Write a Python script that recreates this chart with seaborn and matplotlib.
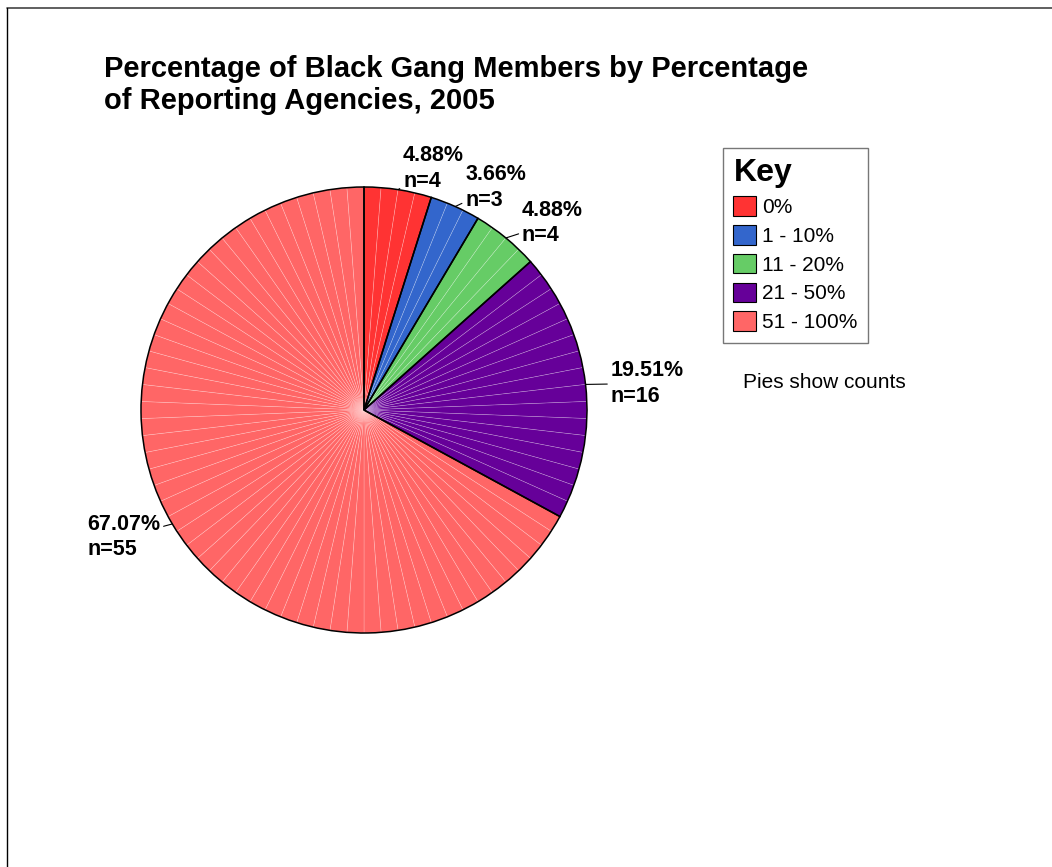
import numpy as np
import matplotlib
matplotlib.use("Agg")
import matplotlib.pyplot as plt
import matplotlib.patches as mpatches
from matplotlib.lines import Line2D
import seaborn as sns

# Data
categories = ["0%", "1 - 10%", "11 - 20%", "21 - 50%", "51 - 100%"]
counts = [4, 3, 4, 16, 55]
colors = ["#FF3333", "#3366CC", "#66CC66", "#660099", "#FF6666"]

# label offsets (pixels) from the wedge edge point, and text alignment
label_offsets = [(5, 21), (10, 19), (16, 15), (25, 1), (-12, -13)]
label_align = ["left", "left", "left", "left", "right"]

sns.set_theme(style="white")
plt.rcParams["font.family"] = ["Liberation Sans", "DejaVu Sans"]
plt.rcParams["text.color"] = "black"

W, H = 1052, 867
fig = plt.figure(figsize=(W / 100, H / 100), dpi=100)

# pie axes: center (364, 410) px, radius 223 px
cx, cy, r = 364, 410, 223
ax = fig.add_axes([(cx - r) / W, (H - cy - r) / H, 2 * r / W, 2 * r / H])

total = sum(counts)

# one thin wedge per count ("Pies show counts")
unit_colors = np.repeat(colors, counts)
ax.pie(
    np.ones(total),
    colors=unit_colors,
    startangle=90,
    counterclock=False,
    radius=1,
    wedgeprops=dict(edgecolor=(1, 1, 1, 0.3), linewidth=0.45),
)

# category outlines on top
wedges, _ = ax.pie(
    counts,
    colors=["none"] * len(counts),
    startangle=90,
    counterclock=False,
    radius=1,
    wedgeprops=dict(edgecolor="black", linewidth=1.1, facecolor="none"),
)
ax.set_xlim(-1, 1)
ax.set_ylim(-1, 1)
ax.set_aspect("equal")
ax.axis("off")

# labels with leader lines
cum = np.cumsum([0] + counts)
for i, n in enumerate(counts):
    mid = (cum[i] + n / 2) / total * 2 * np.pi
    ex, ey = np.sin(mid), np.cos(mid)
    pct = n / total * 100
    dx, dy = label_offsets[i]
    ax.annotate(
        f"{pct:.2f}%\nn={n}",
        xy=(ex, ey),
        xytext=(dx, dy),
        textcoords="offset pixels",
        ha=label_align[i],
        va="center",
        multialignment="left",
        fontsize=15.5,
        fontweight="bold",
        linespacing=1.3,
        arrowprops=dict(arrowstyle="-", color="black", lw=0.8, shrinkA=0, shrinkB=0),
    )

# title
fig.text(
    104 / W,
    1 - 55 / H,
    "Percentage of Black Gang Members by Percentage\nof Reporting Agencies, 2005",
    ha="left",
    va="top",
    fontsize=21,
    fontweight="bold",
    linespacing=1.2,
)

# legend
handles = [
    mpatches.Patch(facecolor=c, edgecolor="black", linewidth=0.8, label=l)
    for c, l in zip(colors, categories)
]
leg = fig.legend(
    handles=handles,
    title="Key",
    loc="upper left",
    bbox_to_anchor=(723 / W, 1 - 148 / H),
    fontsize=15,
    title_fontproperties={"size": 23, "weight": "bold"},
    alignment="left",
    handlelength=1.06,
    handleheight=1.06,
    handletextpad=0.3,
    labelspacing=0.38,
    borderpad=0.5,
    borderaxespad=0,
    fancybox=False,
    frameon=True,
    edgecolor="#555555",
)
leg.get_frame().set_linewidth(1.0)

fig.text(743 / W, 1 - 383 / H, "Pies show counts", ha="left", va="center", fontsize=15)

# outer frame lines
fig.add_artist(Line2D([7 / W, 1], [1 - 8 / H, 1 - 8 / H], color="#444444", lw=1.2))
fig.add_artist(Line2D([7 / W, 7 / W], [0, 1 - 8 / H], color="black", lw=1.0))

fig.savefig("out.png", dpi=100)
